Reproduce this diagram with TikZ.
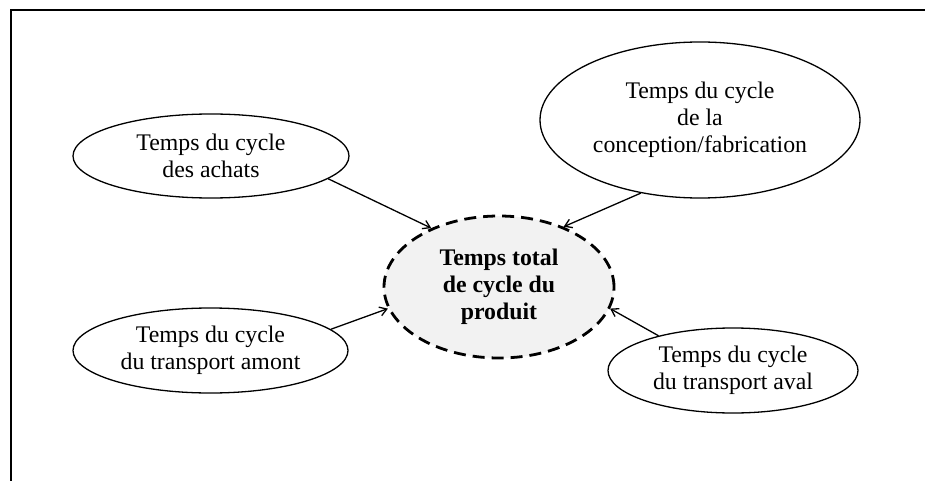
\documentclass[tikz,border=0pt]{standalone}
\usepackage{fontspec}
\setmainfont{Liberation Serif}
\usetikzlibrary{shapes.geometric,arrows.meta}
\definecolor{cfill}{HTML}{F2F2F2}
\begin{document}
\begin{tikzpicture}[x=1pt,y=-1pt,
  txt/.style={font=\fontsize{23.8}{26.8}\selectfont, align=center},
  oval/.style={txt, ellipse, draw=black, line width=1.3pt, fill=white, inner sep=0pt},
  totbox/.style={txt, ellipse, draw=black, line width=2.8pt, dash pattern=on 12pt off 7pt, fill=cfill, inner sep=0pt, font=\fontsize{23.8}{26.8}\selectfont\bfseries},
  arr/.style={line width=1.3pt, -{Straight Barb[length=7pt,width=9pt]}},
  frame/.style={line width=1.8pt}]
\useasboundingbox (0,0) rectangle (925,481);
\draw[frame] (11,481) -- (11,10) -- (925,10);
\node[oval, minimum width=276pt, minimum height=84pt] (achats) at (211,156) {Temps du cycle\\des achats};
\node[oval, minimum width=320pt, minimum height=156pt] (conc) at (700,120) {Temps du cycle\\de la\\conception/fabrication};
\node[oval, minimum width=275pt, minimum height=85pt] (amont) at (210.5,350.5) {Temps du cycle\\du transport amont};
\node[oval, minimum width=250pt, minimum height=85pt] (aval) at (733,370.5) {Temps du cycle\\du transport aval};
\node[totbox, minimum width=230pt, minimum height=142pt] (tot) at (499,287) {Temps total\\de cycle du\\produit};
\draw[arr] (achats.349) -- (tot.139);
\draw[arr] (conc.231) -- (tot.43);
\draw[arr] (amont.10) -- (tot.191);
\draw[arr] (aval.155) -- (tot.349);
\end{tikzpicture}
\end{document}
